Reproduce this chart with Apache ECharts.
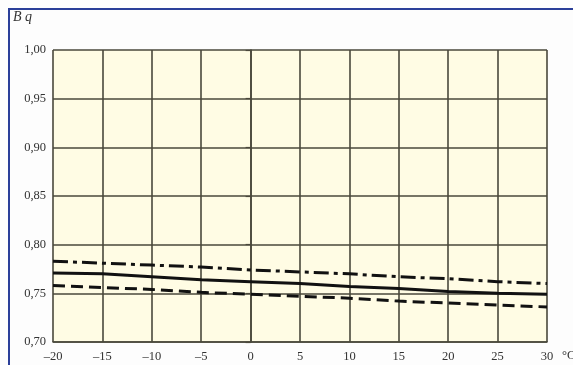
<!DOCTYPE html>
<html>
<head>
<meta charset="utf-8">
<style>
  html, body { margin: 0; padding: 0; background: #fdfdfd; }
  #chart { width: 573px; height: 365px; }
</style>
<script src="https://cdn.jsdelivr.net/npm/echarts@6/dist/echarts.min.js"></script>
</head>
<body>
<div id="chart"></div>
<script>
// Temperature, °C
const temps = [-20, -15, -10, -5, 0, 5, 10, 15, 20, 25, 30];
// Upper curve (dash-dot)
const upperBq = [0.783, 0.781, 0.779, 0.777, 0.774, 0.772, 0.770, 0.767, 0.765, 0.762, 0.760];
// Middle curve (solid)
const middleBq = [0.771, 0.770, 0.767, 0.764, 0.762, 0.760, 0.757, 0.755, 0.752, 0.750, 0.749];
// Lower curve (dashed)
const lowerBq = [0.758, 0.756, 0.754, 0.751, 0.749, 0.747, 0.745, 0.742, 0.740, 0.738, 0.736];

const pairs = (ys) => temps.map((t, i) => [t, ys[i]]);
const font = '"Liberation Serif", "DejaVu Serif", serif';
const gridColor = '#4a483b';

const chart = echarts.init(document.getElementById('chart'), null, { renderer: 'canvas' });

const lineSeries = (data, type, width) => ({
  type: 'line',
  data: pairs(data),
  showSymbol: false,
  smooth: false,
  silent: true,
  lineStyle: { color: '#111', width: width, type: type, cap: 'butt' },
  z: 5
});

chart.setOption({
  backgroundColor: '#fdfdfd',
  animation: false,
  grid: {
    left: 53, right: 26, top: 50, bottom: 23,
    show: true, backgroundColor: '#fffce4', borderWidth: 0
  },
  xAxis: {
    type: 'value', min: -20, max: 30, interval: 5,
    axisLine: { show: true, lineStyle: { color: gridColor, width: 1.6 } },
    axisTick: { show: false },
    splitLine: { show: true, lineStyle: { color: gridColor, width: 1.6 } },
    axisLabel: {
      fontFamily: font, fontSize: 12.5, color: '#333', margin: 8,
      formatter: (v) => (v < 0 ? '\u2013' + Math.abs(v) : String(v))
    }
  },
  yAxis: {
    type: 'value', min: 0.70, max: 1.00, interval: 0.05,
    axisLine: { show: true, lineStyle: { color: gridColor, width: 1.6 } },
    axisTick: { show: true, length: 5, lineStyle: { color: gridColor, width: 1.2 } },
    splitLine: { show: true, lineStyle: { color: gridColor, width: 1.6 } },
    axisLabel: {
      fontFamily: font, fontSize: 12.5, color: '#333', margin: 7,
      formatter: (v) => v.toFixed(2).replace('.', ',')
    }
  },
  series: [
    lineSeries(upperBq, [15, 5, 4, 5], 3),
    lineSeries(middleBq, 'solid', 3),
    lineSeries(lowerBq, [12, 6], 3)
  ],
  graphic: [
    // frame along the left and top edges
    { type: 'line', shape: { x1: 9, y1: 8, x2: 9, y2: 365 }, style: { stroke: '#2b3f99', lineWidth: 2 } },
    { type: 'line', shape: { x1: 8, y1: 9, x2: 573, y2: 9 }, style: { stroke: '#2b3f99', lineWidth: 2 } },
    { type: 'text', left: 13, top: 10,
      style: { text: 'B q', font: 'italic 14px ' + font, fill: '#333' } },
    { type: 'text', left: 562, top: 349,
      style: { text: '°C', font: '12.5px ' + font, fill: '#333' } }
  ]
});
</script>
</body>
</html>
